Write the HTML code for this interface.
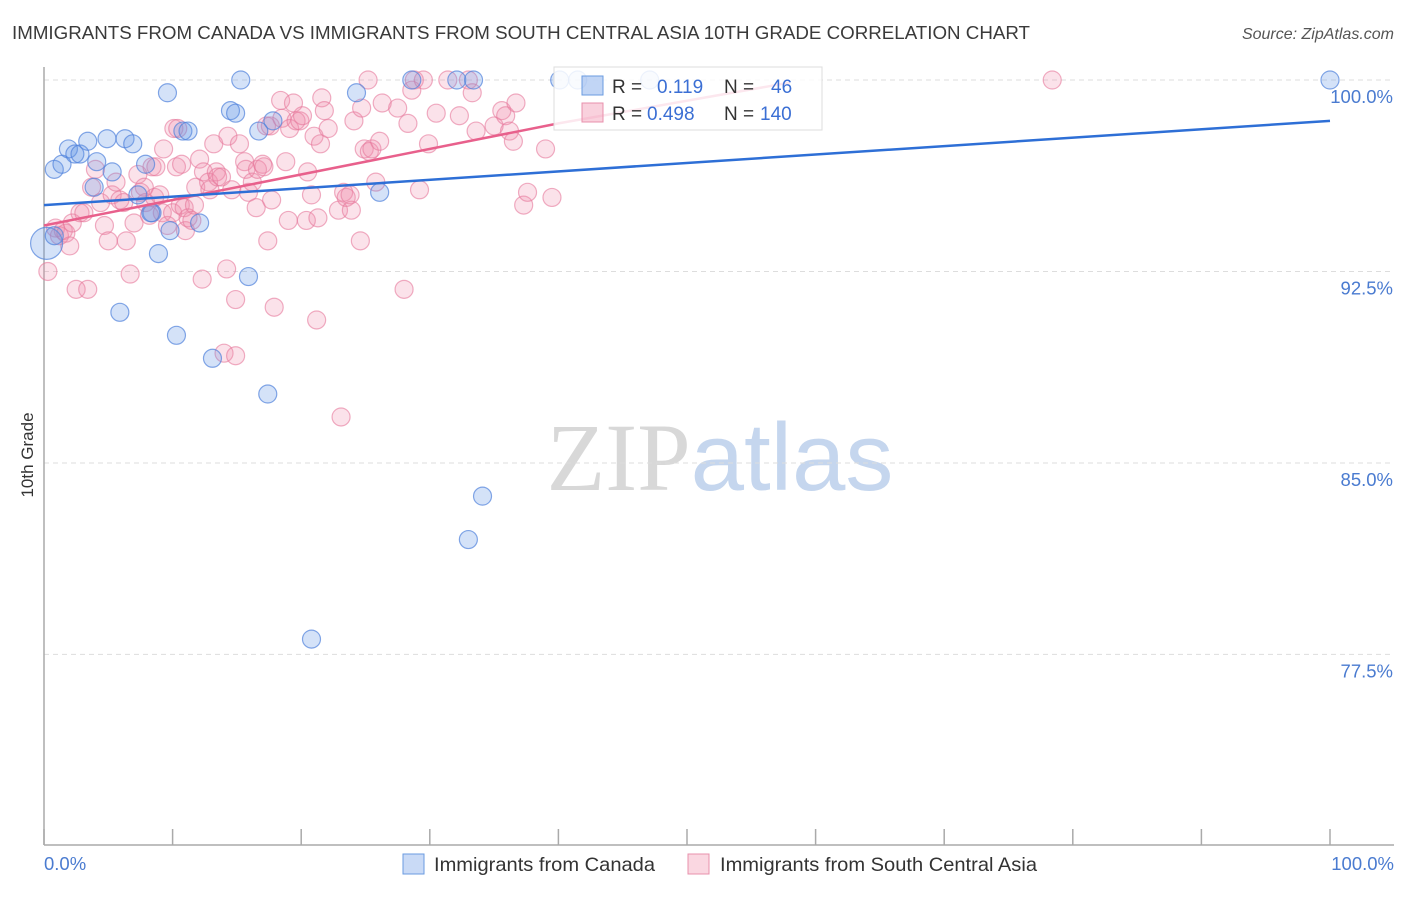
<!DOCTYPE html>
<html><head><meta charset="utf-8"><style>
body{margin:0;background:#fff;font-family:"Liberation Sans",sans-serif;}
svg text{font-family:"Liberation Sans",sans-serif;}
</style></head><body>
<svg id="chart" width="1406" height="892" viewBox="0 0 1406 892" xmlns="http://www.w3.org/2000/svg">
<text x="12" y="39" font-size="18" fill="#3a3a3a" textLength="1018" lengthAdjust="spacingAndGlyphs">IMMIGRANTS FROM CANADA VS IMMIGRANTS FROM SOUTH CENTRAL ASIA 10TH GRADE CORRELATION CHART</text>
<text x="1394" y="39" font-size="16" fill="#555" text-anchor="end" font-style="italic">Source: ZipAtlas.com</text>
<text x="720" y="490" font-size="96" text-anchor="middle"><tspan fill="#d8d8d8" font-family="Liberation Serif">ZIP</tspan><tspan fill="#c5d6ee">atlas</tspan></text>
<g id="grid"></g>
<g id="axes"></g>
<g id="points"></g>
<g id="trends"></g>
<text transform="translate(33,455) rotate(-90)" font-size="17" fill="#333" text-anchor="middle">10th Grade</text>
<text x="44" y="870" font-size="18.5" fill="#4a7bd0">0.0%</text>
<text x="1394" y="870" font-size="18.5" fill="#4a7bd0" text-anchor="end">100.0%</text>
<g>
<rect x="554" y="67" width="268" height="63" fill="rgba(255,255,255,0.85)" stroke="#ddd"/>
<rect x="582" y="76" width="21" height="19" fill="rgba(100,150,230,0.4)" stroke="#6a9be0"/>
<rect x="582" y="103" width="21" height="19" fill="rgba(240,140,170,0.4)" stroke="#e890ac"/>
<text x="612" y="93" font-size="19" fill="#333">R = </text><text x="657" y="93" font-size="19" fill="#3b6fd4">0.119</text>
<text x="724" y="93" font-size="19" fill="#333">N = </text><text x="771" y="93" font-size="19" fill="#3b6fd4">46</text>
<text x="612" y="120" font-size="19" fill="#333">R = </text><text x="647" y="120" font-size="19" fill="#3b6fd4">0.498</text>
<text x="724" y="120" font-size="19" fill="#333">N = </text><text x="760" y="120" font-size="19" fill="#3b6fd4">140</text>
</g>
<g>
<rect x="403" y="854" width="21" height="20" fill="rgba(100,150,230,0.35)" stroke="#6a9be0"/>
<text x="434" y="871" font-size="19.5" fill="#333" textLength="221" lengthAdjust="spacingAndGlyphs">Immigrants from Canada</text>
<rect x="688" y="854" width="21" height="20" fill="rgba(240,140,170,0.35)" stroke="#e890ac"/>
<text x="720" y="871" font-size="19.5" fill="#333" textLength="317" lengthAdjust="spacingAndGlyphs">Immigrants from South Central Asia</text>
</g>
</svg>
<script>
const yTicks=[100,92.5,85,77.5];
const yTickLabels=["100.0%","92.5%","85.0%","77.5%"];
const blueX=[0.8,1.4,1.9,2.4,2.8,3.4,4.1,4.9,3.9,5.3,6.3,6.9,7.9,7.3,8.4,8.9,9.6,9.8,10.3,10.8,11.2,12.1,13.1,5.9,14.5,14.9,15.3,15.9,16.7,17.4,17.8,20.8,24.3,26.1,28.6,32.1,33.4,34.1,33.0,40.1,41.5,47.1,100,0.2,0.8,8.3];
const blueY=[96.5,96.7,97.3,97.1,97.1,97.6,96.8,97.7,95.8,96.4,97.7,97.5,96.7,95.5,94.8,93.2,99.5,94.1,90.0,98.0,98.0,94.4,89.1,90.9,98.8,98.7,100,92.3,98.0,87.7,98.4,78.1,99.5,95.6,100,100,100,83.7,82.0,100,100,100,100,93.6,93.9,94.8];
const pinkX=[0.3,0.9,1.2,1.5,1.7,2.0,2.2,2.5,2.8,3.1,3.4,3.7,4.0,4.4,4.7,5.0,5.3,5.6,5.9,6.2,6.4,6.7,7.0,7.3,7.5,7.8,7.9,8.2,8.4,8.6,8.7,9.0,9.2,9.3,9.6,10.0,10.1,10.3,10.4,10.6,10.7,10.9,11.0,11.2,11.5,11.7,11.8,12.1,12.3,12.4,12.8,12.9,13.2,13.4,13.5,13.8,14.0,14.2,14.3,14.6,14.9,14.9,15.2,15.6,15.7,15.9,16.2,16.5,16.6,17.0,17.1,17.3,17.4,17.6,17.7,17.9,18.4,18.5,18.8,19.0,19.1,19.4,19.6,19.9,20.1,20.4,20.5,20.8,21.0,21.2,21.3,21.5,21.6,21.8,22.1,22.9,23.1,23.3,23.5,23.8,23.9,24.1,24.6,24.7,24.9,25.2,25.3,25.5,25.8,26.1,26.3,27.5,28.0,28.3,28.6,28.8,29.2,29.5,29.9,30.5,31.4,32.3,33.0,33.3,33.6,35.0,35.6,35.9,36.2,36.5,36.7,37.3,37.6,39.0,39.5,78.4];
const pinkY=[92.5,94.2,93.9,94.1,94.0,93.5,94.4,91.8,94.8,94.8,91.8,95.8,96.5,95.2,94.3,93.7,95.5,96.0,95.3,95.2,93.7,92.4,94.4,96.3,95.6,95.8,95.2,94.7,96.6,95.4,96.6,95.5,94.8,97.3,94.3,94.8,98.1,96.6,98.1,95.1,96.7,95.0,94.1,94.6,94.5,95.1,95.8,96.9,92.2,96.4,96.0,95.7,97.5,96.4,96.2,96.2,89.3,92.6,97.8,95.7,91.4,89.2,97.5,96.8,96.5,95.6,96.0,95.0,96.5,96.7,96.6,98.2,93.7,98.2,95.3,91.1,99.2,98.5,96.8,94.5,98.1,99.1,98.4,98.4,98.6,94.5,96.4,95.5,97.8,90.6,94.6,97.5,99.3,98.8,98.1,94.9,86.8,95.6,95.4,95.5,94.9,98.4,93.7,98.9,97.3,100,97.2,97.3,96.0,97.6,99.1,98.9,91.8,98.3,99.6,100,95.7,100,97.5,98.7,100,98.6,100,99.5,98.0,98.2,98.8,98.6,98.0,97.6,99.1,95.1,95.6,97.3,95.4,100];
const blueTrendX=[0,100];
const blueTrendY=[95.1,98.4];
const pinkTrendX=[0,40,58];
const pinkTrendY=[94.3,98.3,99.9];

const NS="http://www.w3.org/2000/svg";
const X0=44,X1=1330,Y100=80,PXPER=25.53;
function sx(v){return X0+(X1-X0)*v/100;}
function sy(v){return Y100+(100-v)*PXPER;}
function mk(tag,attrs,parent){const e=document.createElementNS(NS,tag);for(const k in attrs)e.setAttribute(k,attrs[k]);parent.appendChild(e);return e;}
const grid=document.getElementById('grid'),axes=document.getElementById('axes'),pts=document.getElementById('points'),tr=document.getElementById('trends');
yTicks.forEach((t,i)=>{
  const l=mk('line',{x1:X0,x2:1394,y1:sy(t),y2:sy(t),stroke:'#ddd','stroke-dasharray':'5,4'},grid);
  
  
  const tx=mk('text',{x:1393,y:sy(t)+23,'font-size':18.5,fill:'#4a7bd0','text-anchor':'end'},grid);
  tx.textContent=yTickLabels[i];
  
  
});
const ya=mk('line',{x1:X0,x2:X0,y1:67,y2:845,stroke:'#aaa','stroke-width':1.5},axes);


const xa=mk('line',{x1:X0,x2:1394,y1:845,y2:845,stroke:'#aaa','stroke-width':1.5},axes);


for(let i=0;i<=10;i++){
  const tk=mk('line',{x1:sx(i*10),x2:sx(i*10),y1:829,y2:845,stroke:'#aaa','stroke-width':1.5},axes);
  
  
}
pinkX.forEach((x,i)=>{
  const c=mk('circle',{cx:sx(x),cy:sy(pinkY[i]),r:9,fill:'rgba(240,140,170,0.25)',stroke:'rgba(230,120,155,0.6)','stroke-width':1.2},pts);
  
  
});
blueX.forEach((x,i)=>{
  const c=mk('circle',{cx:sx(x),cy:sy(blueY[i]),r:(i==43?16:9),fill:'rgba(100,150,230,0.28)',stroke:'rgba(80,130,220,0.7)','stroke-width':1.2},pts);
  
  
});
function trend(xs,ys,col,name){
  const p=mk('polyline',{points:xs.map((x,i)=>sx(x)+','+sy(ys[i])).join(' '),fill:'none',stroke:col,'stroke-width':2.5},tr);
  
  
}
trend(pinkTrendX,pinkTrendY,'#e8608c','trend-line-south-central-asia');
trend(blueTrendX,blueTrendY,'#2e6fd6','trend-line-canada');
</script>
</body></html>
